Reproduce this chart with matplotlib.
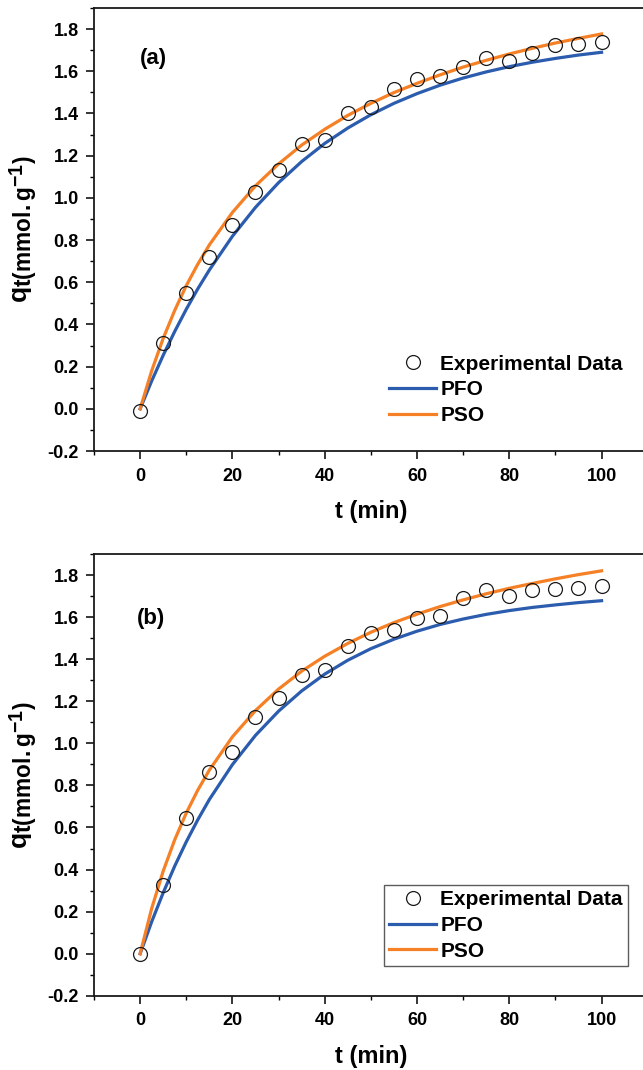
import matplotlib
matplotlib.use("Agg")
import matplotlib.pyplot as plt
import matplotlib._mathtext as _mt
from matplotlib.ticker import MultipleLocator, FixedLocator

plt.rcParams['font.family'] = ['Liberation Sans', 'DejaVu Sans']
plt.rcParams['font.weight'] = 'bold'
plt.rcParams['axes.unicode_minus'] = False
plt.rcParams['mathtext.fontset'] = 'custom'
plt.rcParams['mathtext.rm'] = 'Liberation Sans:bold'
plt.rcParams['mathtext.it'] = 'Liberation Sans:bold'
plt.rcParams['mathtext.bf'] = 'Liberation Sans:bold'
plt.rcParams['mathtext.default'] = 'bf'
# subscripts in the reference are nearly as large as the main letter
_mt.SHRINK_FACTOR = 0.86

# ---------------- data ----------------
t_exp = [0, 5, 10, 15, 20, 25, 30, 35, 40, 45, 50, 55, 60, 65, 70, 75, 80, 85, 90, 95, 100]
q_exp_a = [-0.01, 0.31, 0.55, 0.72, 0.87, 1.027, 1.131, 1.257, 1.275, 1.40, 1.43, 1.516, 1.563,
           1.58, 1.62, 1.663, 1.649, 1.687, 1.725, 1.73, 1.738]
q_exp_b = [0.0, 0.327, 0.645, 0.862, 0.957, 1.126, 1.215, 1.325, 1.348, 1.462, 1.526, 1.538, 1.594,
           1.607, 1.689, 1.727, 1.700, 1.727, 1.732, 1.737, 1.749]

t_fit = [0, 2.5, 5, 7.5, 10, 12.5, 15, 20, 25, 30, 35, 40, 45, 50, 55, 60, 65, 70, 75, 80, 85, 90, 95, 100]
pfo_a = [0, 0.132, 0.254, 0.367, 0.472, 0.569, 0.658, 0.818, 0.955, 1.072, 1.172, 1.258, 1.331, 1.394,
         1.448, 1.494, 1.534, 1.568, 1.597, 1.622, 1.643, 1.661, 1.677, 1.690]
pso_a = [0, 0.180, 0.334, 0.467, 0.584, 0.686, 0.777, 0.931, 1.057, 1.161, 1.250, 1.325, 1.391, 1.448,
         1.499, 1.543, 1.583, 1.620, 1.652, 1.682, 1.709, 1.734, 1.756, 1.777]
pfo_b = [0, 0.152, 0.290, 0.417, 0.532, 0.637, 0.733, 0.899, 1.038, 1.153, 1.249, 1.329, 1.395, 1.450,
         1.495, 1.533, 1.565, 1.591, 1.613, 1.631, 1.646, 1.658, 1.669, 1.678]
pso_b = [0, 0.215, 0.393, 0.542, 0.669, 0.778, 0.873, 1.031, 1.156, 1.258, 1.343, 1.414, 1.475, 1.528,
         1.574, 1.614, 1.650, 1.682, 1.711, 1.737, 1.760, 1.782, 1.802, 1.820]

x_ticks = [0, 20, 40, 60, 80, 100]
y_ticks = [-0.2, 0.0, 0.2, 0.4, 0.6, 0.8, 1.0, 1.2, 1.4, 1.6, 1.8]
panel_labels = ['(a)', '(b)']
legend_labels = ['Experimental Data', 'PFO', 'PSO']

BLUE = '#2b5cad'
ORANGE = '#f58025'

W, H = 643, 1070
fig = plt.figure(figsize=(W / 100, H / 100), dpi=100)

def px_axes(left, top, right, bottom):
    return fig.add_axes([left / W, 1 - bottom / H, (right - left) / W, (bottom - top) / H])

ax_a = px_axes(94, 8, 647.7, 451)
ax_b = px_axes(94, 554, 647.7, 995.8)

panels = [
    (ax_a, q_exp_a, pfo_a, pso_a, (0.0, 1.66), False, 0.2290),
    (ax_b, q_exp_b, pfo_b, pso_b, (-0.8, 1.594), True, 0.2508),
]

for i, (ax, qe, pfo, pso, lab_pos, frame, ly) in enumerate(panels):
    ax.plot(t_exp, qe, linestyle='none', marker='o', markersize=10, markerfacecolor='none',
            markeredgecolor='#1a1a1a', markeredgewidth=0.9, label=legend_labels[0], zorder=3)
    ax.plot(t_fit, pfo, color=BLUE, linewidth=2.3, label=legend_labels[1], zorder=2)
    ax.plot(t_fit, pso, color=ORANGE, linewidth=2.3, label=legend_labels[2], zorder=2)

    ax.set_xlim(-10, 110)
    ax.set_ylim(-0.2, 1.9)
    ax.xaxis.set_major_locator(FixedLocator(x_ticks))
    ax.xaxis.set_minor_locator(MultipleLocator(10))
    ax.yaxis.set_major_locator(FixedLocator(y_ticks))
    ax.yaxis.set_minor_locator(MultipleLocator(0.1))
    ax.set_yticklabels([f'{v:.1f}' for v in y_ticks])
    ax.tick_params(which='major', direction='out', length=6, width=1.1, labelsize=13, pad=5)
    ax.tick_params(which='minor', direction='out', length=3, width=1.0)
    ax.tick_params(axis='x', which='major', pad=6)
    ax.tick_params(top=False, right=False)
    for sp in ax.spines.values():
        sp.set_linewidth(1.3)
        sp.set_color('#1a1a1a')
    for lbl in ax.get_xticklabels() + ax.get_yticklabels():
        lbl.set_fontweight('bold')

    ax.set_xlabel('t (min)', fontsize=17, fontweight='bold', labelpad=11)
    ax.set_ylabel(r'$q_{t(mmol.g^{-1})}$', fontsize=19, labelpad=5)

    ax.text(lab_pos[0], lab_pos[1], panel_labels[i], fontsize=16, fontweight='bold',
            ha='left', va='center')

    leg = ax.legend(loc='upper left', bbox_to_anchor=(0.5237, ly), borderaxespad=0,
                    frameon=frame, fancybox=False, fontsize=15, handlelength=2.25,
                    handletextpad=0.2, labelspacing=0.32, borderpad=0.25)
    for txt in leg.get_texts():
        txt.set_fontweight('bold')
    if frame:
        leg.get_frame().set_edgecolor('#333333')
        leg.get_frame().set_linewidth(1.0)

fig.savefig('out.png', dpi=100)
